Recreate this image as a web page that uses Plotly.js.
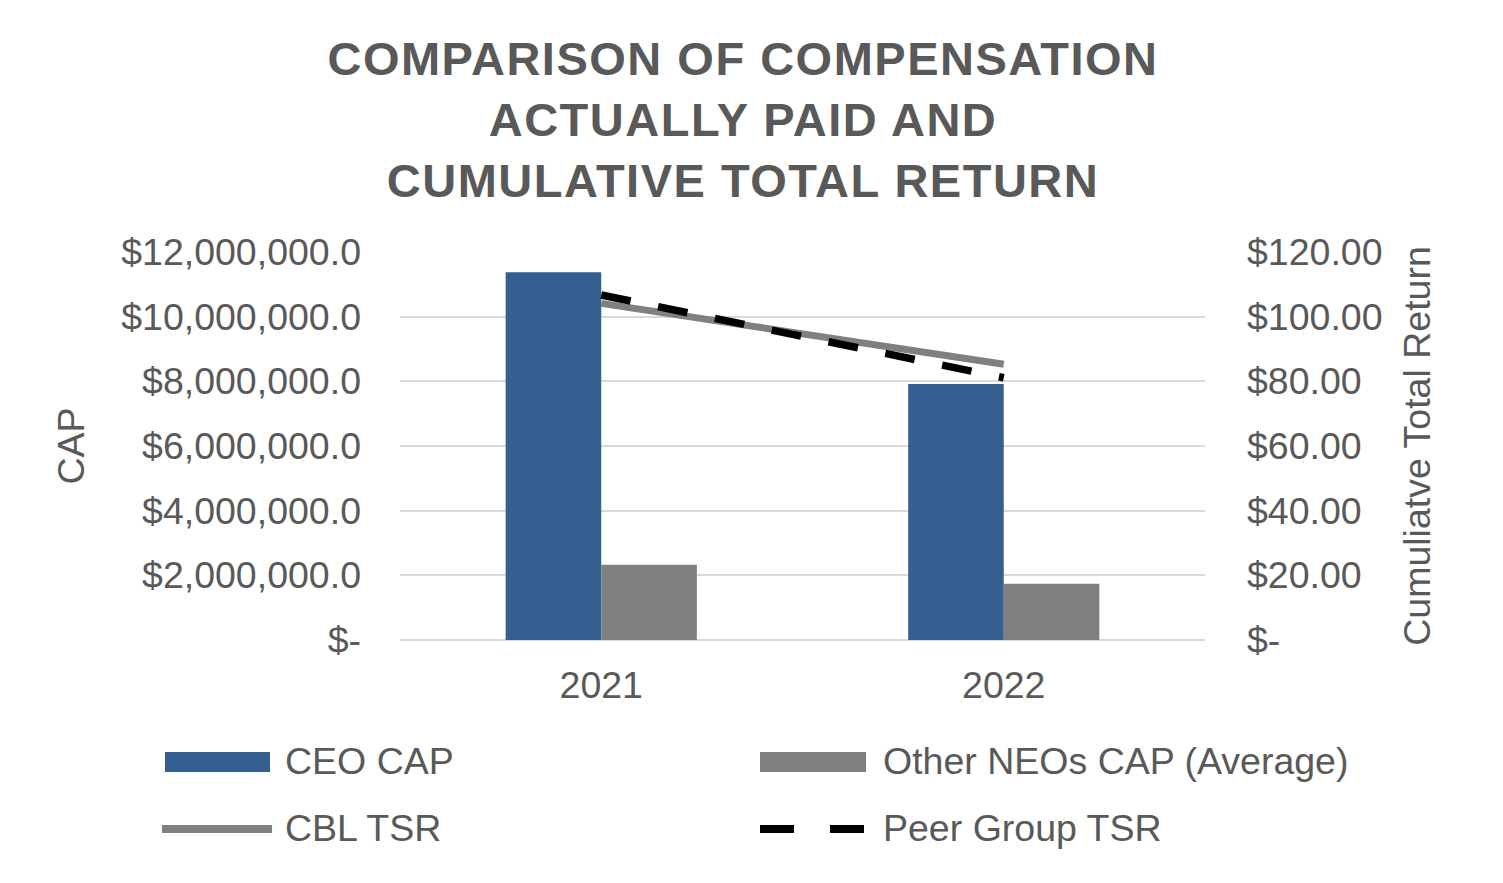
<!DOCTYPE html>
<html>
<head>
<meta charset="utf-8">
<script src="https://cdn.plot.ly/plotly-3.0.1.min.js"></script>
<style>html,body{margin:0;padding:0;background:#fff;}#chart{width:1503px;height:883px;}
.gtitle{letter-spacing:1.5px;}</style>
</head>
<body>
<div id="chart"></div>
<script>
// ---- data ----
const years = ['2021', '2022'];
const ceoCap = [11370000, 7920000];
const otherNeoCap = [2330000, 1740000];
const cblTsr = [104.1, 85.3];
const peerTsr = [106.7, 81.1];
const seriesNames = ['CEO CAP', 'Other NEOs CAP (Average)', 'CBL TSR', 'Peer Group TSR'];
const leftTickVals = [0, 2000000, 4000000, 6000000, 8000000, 10000000, 12000000];
const leftTickText = ['$-', '$2,000,000.0', '$4,000,000.0', '$6,000,000.0', '$8,000,000.0', '$10,000,000.0', '$12,000,000.0'];
const rightTickVals = [0, 20, 40, 60, 80, 100, 120];
const rightTickText = ['$-', '$20.00', '$40.00', '$60.00', '$80.00', '$100.00', '$120.00'];
const titleText = 'COMPARISON OF COMPENSATION<br>ACTUALLY PAID AND<br>CUMULATIVE TOTAL RETURN';
const leftTitle = 'CAP';
const rightTitle = 'Cumuliatve Total Return';

// ---- style ----
const W = 1503, H = 883;
const M = {l: 400, r: 298, t: 252, b: 243};
const FONT = 'Liberation Sans, Arial, sans-serif';
const FS = 37.5;
const TXT = '#595959';
const BLUE = '#365F91';
const GRAY = '#7F7F7F';
const GRID = '#D9D9D9';
const pw = W - M.l - M.r, ph = H - M.t - M.b;
const px = x => (x - M.l) / pw;
const py = y => (H - M.b - y) / ph;

const traces = [
  {type: 'bar', x: years, y: ceoCap, name: seriesNames[0], marker: {color: BLUE}, yaxis: 'y', hoverinfo: 'skip'},
  {type: 'bar', x: years, y: otherNeoCap, name: seriesNames[1], marker: {color: GRAY}, yaxis: 'y', hoverinfo: 'skip'},
  {type: 'scatter', mode: 'lines', x: years, y: cblTsr, name: seriesNames[2], yaxis: 'y2',
   line: {color: '#808080', width: 7}, hoverinfo: 'skip'},
  {type: 'scatter', mode: 'lines', x: years, y: peerTsr, name: seriesNames[3], yaxis: 'y2',
   line: {color: '#000000', width: 7.5, dash: '30px,28px'}, hoverinfo: 'skip'}
];

// custom legend (swatches sized like the reference)
const shapes = [
  {type: 'rect', xref: 'paper', yref: 'paper', x0: px(165), x1: px(270), y0: py(772), y1: py(752), fillcolor: BLUE, line: {width: 0}},
  {type: 'rect', xref: 'paper', yref: 'paper', x0: px(760), x1: px(866), y0: py(772), y1: py(752), fillcolor: GRAY, line: {width: 0}},
  {type: 'line', xref: 'paper', yref: 'paper', x0: px(162), x1: px(272), y0: py(829), y1: py(829), line: {color: '#808080', width: 8}},
  {type: 'line', xref: 'paper', yref: 'paper', x0: px(760), x1: px(866), y0: py(829), y1: py(829), line: {color: '#000000', width: 8, dash: '34px,36px'}}
];
const legendText = (t, x, y) => ({text: t, xref: 'paper', yref: 'paper', x: px(x), y: py(y),
  xanchor: 'left', yanchor: 'middle', showarrow: false, font: {family: FONT, size: FS, color: TXT}});
const annotations = [
  legendText(seriesNames[0], 283, 761),
  legendText(seriesNames[1], 881, 761),
  legendText(seriesNames[2], 283, 828),
  legendText(seriesNames[3], 881, 828)
];

const layout = {
  width: W, height: H,
  margin: M,
  paper_bgcolor: '#fff', plot_bgcolor: '#fff',
  font: {family: FONT, size: FS, color: TXT},
  title: {text: titleText, font: {family: FONT, size: 47, color: TXT, weight: 'bold'},
          xref: 'container', x: 743 / W, yref: 'container', y: 1 - 75 / H, yanchor: 'top'},
  showlegend: false,
  barmode: 'group', bargap: 0.525, bargroupgap: 0,
  xaxis: {type: 'category', showgrid: false, zeroline: false, showline: false, ticks: '',
          tickfont: {family: FONT, size: FS, color: TXT}, ticklabelstandoff: 19},
  yaxis: {range: [0, 12000000], tickvals: leftTickVals, ticktext: leftTickText, showgrid: true,
          gridcolor: GRID, gridwidth: 2, zeroline: true, zerolinecolor: GRID, zerolinewidth: 2,
          showline: false, ticks: '', ticklabelstandoff: 38,
          tickfont: {family: FONT, size: FS, color: TXT},
          title: {text: leftTitle, font: {family: FONT, size: FS, color: TXT}, standoff: 25}},
  yaxis2: {range: [0, 120], overlaying: 'y', side: 'right', tickvals: rightTickVals, ticktext: rightTickText,
           showgrid: false, zeroline: false, showline: false, ticks: '', ticklabelstandoff: 41,
           tickfont: {family: FONT, size: FS, color: TXT},
           title: {text: rightTitle, font: {family: FONT, size: FS, color: TXT}, standoff: 22}},
  shapes: shapes,
  annotations: annotations
};

Plotly.newPlot('chart', traces, layout, {displayModeBar: false, staticPlot: true});
</script>
</body>
</html>
